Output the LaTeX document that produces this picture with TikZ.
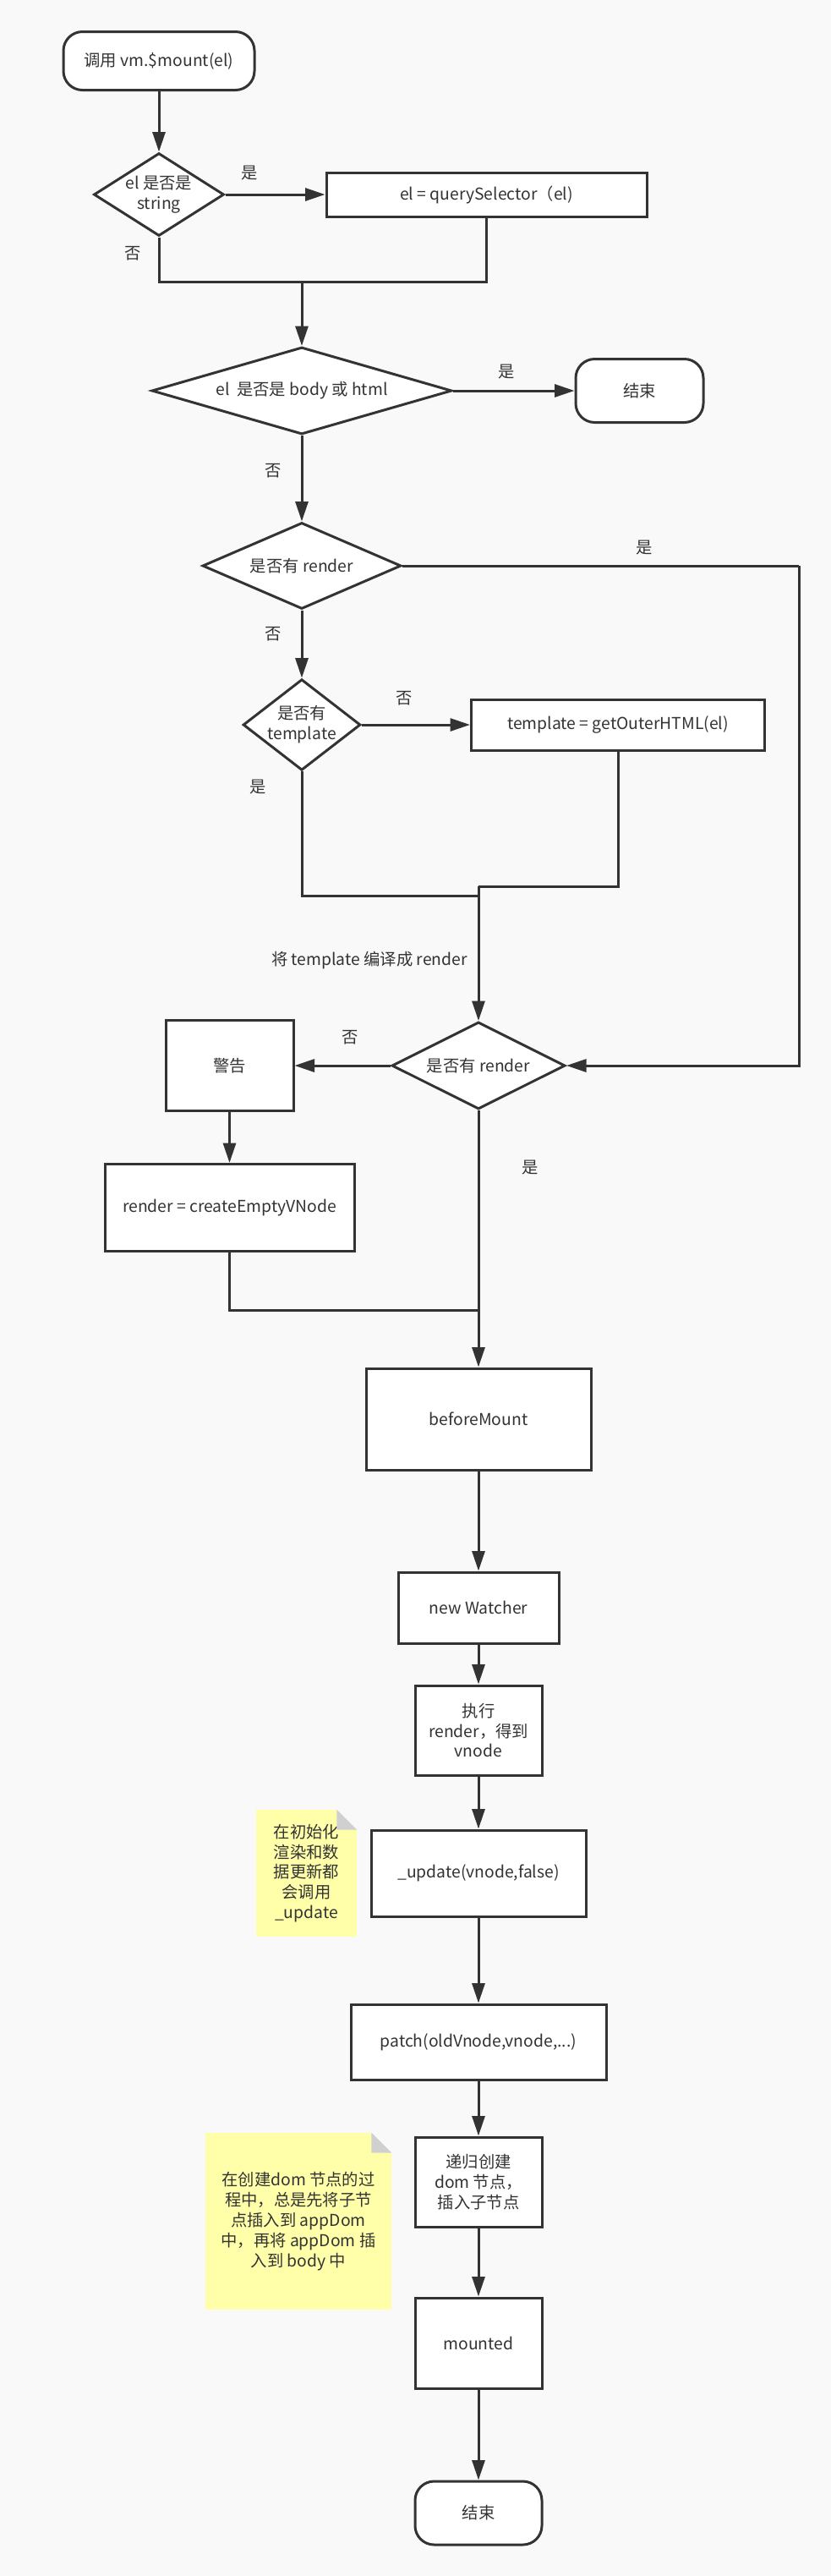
\documentclass[tikz,border=0pt]{standalone}
\usepackage{fontspec}
\setmainfont{Noto Sans CJK SC}
\usetikzlibrary{shapes.geometric,arrows.meta}

\definecolor{canvas}{RGB}{249,249,249}
\definecolor{ink}{RGB}{51,51,51}
\definecolor{notepaper}{RGB}{255,255,170}
\definecolor{notefold}{RGB}{208,208,208}

\begin{document}
\begin{tikzpicture}[
        font=\fontsize{11pt}{13.6pt}\selectfont,
        every node/.style={text=ink},
        line/.style={draw=ink,line width=0.6mm},
        arrow/.style={line,-{Triangle[length=4.7mm,width=3mm]}},
        terminal/.style={draw=ink,line width=0.6mm,fill=white,rounded corners=4.5mm,align=center},
        process/.style={draw=ink,line width=0.6mm,fill=white,align=center},
        decision/.style={diamond,draw=ink,line width=0.6mm,fill=white,align=center,inner sep=0pt},
        note/.style={fill=notepaper,align=center,inner sep=0pt}
    ]

    \fill[canvas] (0,0) rectangle (19.66,-60.92);
    \useasboundingbox (0,0) rectangle (19.66,-60.92);

    % mount entry
    \node[terminal,minimum width=45.2mm,minimum height=13.8mm] (start) at (3.76,-1.44) {调用 vm.\$mount(el)};
    \node[decision,aspect=1.57,minimum width=30.8mm,minimum height=19.6mm] (isstr) at (3.76,-4.60) {el 是否是\\string};
    \node[process,minimum width=75.8mm,minimum height=10.4mm] (qs) at (11.51,-4.60) {el = querySelector（el)};
    \coordinate (mergeA) at (7.14,-6.66);
    \node[decision,aspect=3.45,minimum width=71mm,minimum height=20.6mm] (body) at (7.14,-9.24) {el\ \ 是否是 body 或 html};
    \node[terminal,minimum width=30.2mm,minimum height=15mm] (end1) at (15.13,-9.24) {结束};

    % render / template
    \node[decision,aspect=2.3,minimum width=47mm,minimum height=20.4mm] (hasrender) at (7.14,-13.38) {是否有 render};
    \coordinate (bypass) at (18.9,-13.38);
    \node[decision,aspect=1.29,minimum width=27mm,minimum height=21mm] (hastpl) at (7.14,-17.14) {是否有\\template};
    \node[process,minimum width=69.4mm,minimum height=12mm] (tpl) at (14.62,-17.14) {template = getOuterHTML(el)};
    \coordinate (mergeB) at (11.32,-20.96);
    \coordinate (mergeC) at (11.32,-21.18);
    \node[decision,aspect=1.99,minimum width=41mm,minimum height=20.6mm] (render2) at (11.32,-25.2) {是否有 render};
    \node[process,minimum width=30.2mm,minimum height=21.4mm] (warn) at (5.43,-25.2) {警告};
    \node[process,minimum width=59mm,minimum height=20.6mm] (cev) at (5.43,-28.56) {render = createEmptyVNode};
    \coordinate (mergeD) at (11.32,-30.98);

    % mount steps
    \node[process,minimum width=53.2mm,minimum height=24mm] (bm) at (11.32,-33.56) {beforeMount};
    \node[process,minimum width=38mm,minimum height=16.8mm] (watcher) at (11.32,-38.02) {new Watcher};
    \node[process,minimum width=30mm,minimum height=21.2mm] (exec) at (11.32,-40.92) {执行\\render，得到\\vnode};
    \node[process,minimum width=50.8mm,minimum height=20.4mm] (upd) at (11.32,-44.3) {\_update(vnode,false)};
    \node[process,minimum width=60.4mm,minimum height=17.8mm] (patch) at (11.32,-48.29) {patch(oldVnode,vnode,...)};
    \node[process,minimum width=30mm,minimum height=21.2mm] (recurse) at (11.32,-51.6) {递归创建\\dom 节点，\\插入子节点};
    \node[process,minimum width=30mm,minimum height=21.4mm] (mounted) at (11.32,-55.41) {mounted};
    \node[terminal,minimum width=30mm,minimum height=15mm] (end2) at (11.32,-59.43) {结束};

    % notes
    \node[note,minimum width=23.8mm,minimum height=30mm] (note1) at (7.25,-44.3) {在初始化\\渲染和数\\据更新都\\会调用\\\_update};
    \node[note,minimum width=44mm,minimum height=41.8mm] (note2) at (7.06,-52.53) {在创建dom 节点的过\\程中，总是先将子节\\点插入到 appDom\\中，再将 appDom 插\\入到 body 中};
    \foreach \n in {note1,note2} {
        \fill[canvas] ([xshift=-4.8mm]\n.north east) -- (\n.north east) -- ([yshift=-4.8mm]\n.north east) -- cycle;
        \fill[notefold] ([xshift=-4.8mm]\n.north east) -- ([yshift=-4.8mm]\n.north east) -- ([xshift=-4.8mm,yshift=-4.8mm]\n.north east) -- cycle;
    }

    % connectors
    \draw[arrow] (start) -- (isstr);
    \draw[arrow] (isstr) -- (qs);
    \draw[line] (isstr.south) |- (mergeA);
    \draw[line] (qs.south) |- (mergeA);
    \draw[arrow] (mergeA) -- (body);
    \draw[arrow] (body) -- (end1);
    \draw[arrow] (body) -- (hasrender);
    \draw[line] (hasrender.east) -- (bypass);
    \draw[arrow] (bypass) |- (render2.east);
    \draw[arrow] (hasrender) -- (hastpl);
    \draw[arrow] (hastpl) -- (tpl);
    \draw[line] (hastpl.south) |- (mergeC);
    \draw[line] (tpl.south) |- (mergeB);
    \draw[arrow] (mergeB) -- (render2);
    \draw[arrow] (render2) -- (warn);
    \draw[arrow] (warn) -- (cev);
    \draw[line] (cev.south) |- (mergeD);
    \draw[arrow] (render2) -- (bm);
    \draw[arrow] (bm) -- (watcher);
    \draw[arrow] (watcher) -- (exec);
    \draw[arrow] (exec) -- (upd);
    \draw[arrow] (upd) -- (patch);
    \draw[arrow] (patch) -- (recurse);
    \draw[arrow] (recurse) -- (mounted);
    \draw[arrow] (mounted) -- (end2);

    % branch labels
    \node (yesStr) at (5.9,-4.1) {是};
    \node (noStr) at (3.14,-6.0) {否};
    \node (yesBody) at (11.98,-8.8) {是};
    \node (noBody) at (6.46,-11.14) {否};
    \node (yesRender) at (15.24,-12.96) {是};
    \node (noRender) at (6.46,-15.0) {否};
    \node (noTpl) at (9.56,-16.52) {否};
    \node (yesTpl) at (6.1,-18.62) {是};
    \node (compile) at (8.74,-22.72) {将 template 编译成 render};
    \node (noRender2) at (8.28,-24.54) {否};
    \node (yesRender2) at (12.54,-27.62) {是};

\end{tikzpicture}
\end{document}
